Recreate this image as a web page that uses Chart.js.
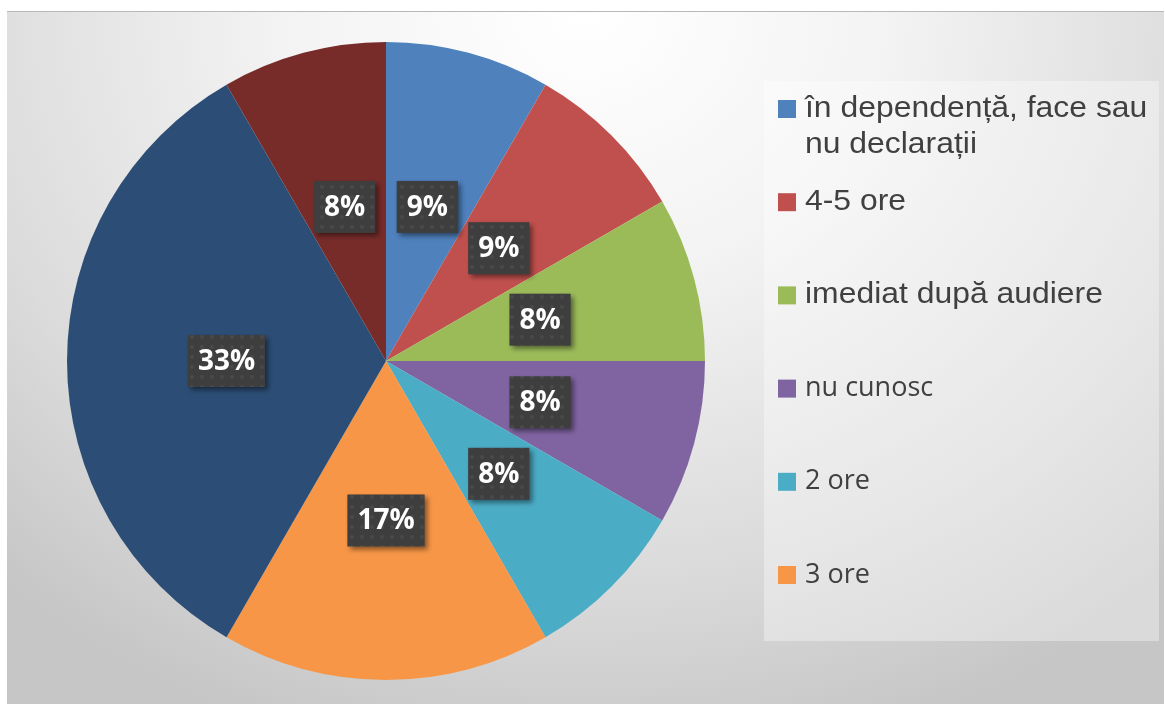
<!DOCTYPE html>
<html>
<head>
<meta charset="utf-8">
<script src="https://cdn.jsdelivr.net/npm/chart.js@4.4.1/dist/chart.umd.min.js"></script>
<style>
  body { margin: 0; background: #fff; }
  #frame {
    position: absolute; left: 7px; top: 11px; width: 1157px; height: 693px;
    border-top: 1px solid #b8b8b8;
    background: radial-gradient(ellipse 75% 110% at 50% 0%, #ffffff 0%, #f3f3f3 35%, #dadada 75%, #c6c6c6 100%);
  }
  #chart { position: absolute; left: 0; top: 0; }
</style>
</head>
<body>
<div id="frame"><canvas id="chart" width="1157" height="693"></canvas></div>
<script>
const categories = ['în dependență, face sau nu declarații', '4-5 ore', 'imediat după audiere', 'nu cunosc', '2 ore', '3 ore', '', ''];
const counts = [1, 1, 1, 1, 1, 2, 4, 1];
const percentLabels = ['9%', '9%', '8%', '8%', '8%', '17%', '33%', '8%'];
const colors = ['#4F81BD', '#C0504D', '#9BBB59', '#8064A2', '#4BACC6', '#F79646', '#2C4D75', '#772C2A'];
const legendLines = [['în dependență, face sau', 'nu declarații'], ['4-5 ore'], ['imediat după audiere'], ['nu cunosc'], ['2 ore'], ['3 ore']];

// dotted texture for the label boxes
function makePattern(ctx) {
  const p = document.createElement('canvas');
  p.width = 10; p.height = 10;
  const c = p.getContext('2d');
  c.fillStyle = '#3e3e3e';
  c.fillRect(0, 0, 10, 10);
  c.fillStyle = '#4a4a4a';
  c.beginPath(); c.arc(5, 5, 2, 0, Math.PI * 2); c.fill();
  return ctx.createPattern(p, 'repeat');
}

const boxLabels = {
  id: 'boxLabels',
  afterDatasetsDraw(chart) {
    const ctx = chart.ctx;
    const pattern = makePattern(ctx);
    ctx.save();
    ctx.font = 'bold 28px "Open Sans"';
    ctx.textAlign = 'center';
    ctx.textBaseline = 'middle';
    chart.getDatasetMeta(0).data.forEach((arc, i) => {
      const pos = arc.getCenterPoint();
      const text = percentLabels[i];
      const w = ctx.measureText(text).width + 20;
      const h = 52;
      ctx.save();
      ctx.shadowColor = 'rgba(0,0,0,0.45)';
      ctx.shadowBlur = 5;
      ctx.shadowOffsetX = 3;
      ctx.shadowOffsetY = 3;
      ctx.fillStyle = pattern;
      ctx.fillRect(pos.x - w / 2, pos.y - h / 2, w, h);
      ctx.restore();
      ctx.fillStyle = '#ffffff';
      ctx.fillText(text, pos.x, pos.y + 1);
    });
    ctx.restore();
  }
};

const sideLegend = {
  id: 'sideLegend',
  afterDraw(chart) {
    const ctx = chart.ctx;
    ctx.save();
    ctx.fillStyle = 'rgba(255,255,255,0.35)';
    ctx.fillRect(757, 69, 395, 560);
    ctx.textBaseline = 'middle';
    legendLines.forEach((lines, i) => {
      const y = 97 + i * 93.2;
      ctx.fillStyle = colors[i];
      ctx.fillRect(771, y - 9, 18, 18);
      ctx.fillStyle = '#404040';
      lines.forEach((line, j) => {
        ctx.save();
        ctx.translate(798, y + j * 36);
        if (i < 3) {
          // first entries are set in a wider sans
          ctx.font = '29px "Liberation Sans"';
          ctx.scale(1.1, 1);
        } else {
          ctx.font = '27px "Open Sans"';
        }
        ctx.fillText(line, 0, 0);
        ctx.restore();
      });
    });
    ctx.restore();
  }
};

new Chart(document.getElementById('chart'), {
  type: 'pie',
  data: {
    labels: categories,
    datasets: [{
      data: counts,
      backgroundColor: colors,
      borderWidth: 0
    }]
  },
  options: {
    responsive: false,
    animation: false,
    layout: { padding: { left: 60, top: 30, right: 459, bottom: 25 } },
    plugins: {
      legend: { display: false },
      tooltip: { enabled: false }
    }
  },
  plugins: [boxLabels, sideLegend]
});
</script>
</body>
</html>
